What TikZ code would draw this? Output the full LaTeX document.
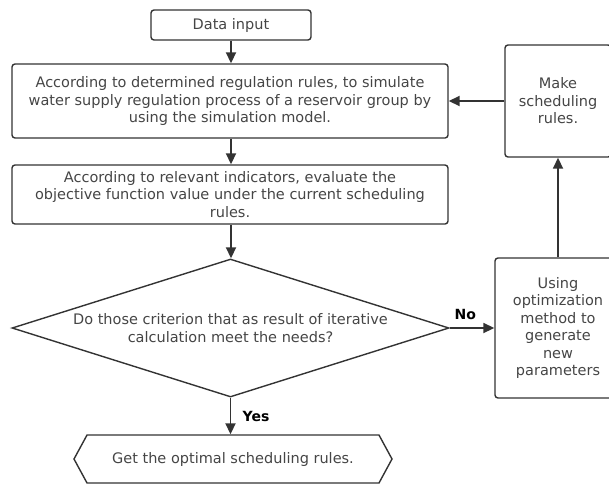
\documentclass[tikz,border=0pt]{standalone}
\usepackage{fontspec}
\setmainfont{DejaVu Sans}
\usetikzlibrary{shapes,arrows.meta,positioning}
\definecolor{linec}{HTML}{333333}
\definecolor{txtc}{HTML}{454545}

\begin{document}
\begin{tikzpicture}[x=1pt,y=-1pt,
  box/.style={draw=linec,line width=1.4pt,rounded corners=3pt,align=center,text=txtc,
    font=\fontsize{14.5}{17.5}\selectfont,inner sep=0pt},
  decision/.style={draw=linec,line width=1.4pt,shape=diamond,inner sep=0pt,
    minimum width=437pt,minimum height=138pt},
  txt/.style={align=center,text=txtc,font=\fontsize{14.5}{18}\selectfont},
  hexa/.style={draw=linec,line width=1.4pt,shape=signal,signal to=west and east,
    signal pointer angle=123,text=txtc,font=\fontsize{14.5}{17.5}\selectfont,
    minimum width=318pt,minimum height=48pt,inner sep=0pt},
  arr/.style={draw=linec,line width=1.8pt,-{Triangle[length=11pt,width=10pt]}},
  lbl/.style={font=\fontsize{14}{15}\bfseries\selectfont,text=black}]
\useasboundingbox (0,0) rectangle (609,485);

\node[box,minimum width=160pt,minimum height=30pt] (din) at (231,25) {Data input};
\node[box,minimum width=436pt,minimum height=74pt] (sim) at (230,101)
  {According to determined regulation rules, to simulate\\
   water supply regulation process of a reservoir group by\\
   using the simulation model.};
\node[box,minimum width=436pt,minimum height=59pt] (eva) at (230,194.5)
  {According to relevant indicators, evaluate the\\
   objective function value under the current scheduling\\
   rules.};
\node[decision] (chk) at (230.5,328) {};
\node[txt] (chkq) at (chk) {Do those criterion that as result of iterative\\
   calculation meet the needs?};
\node[hexa] (res) at (233,459) {Get the optimal scheduling rules.};
\node[box,minimum width=126pt,minimum height=140pt] (opt) at (558,328)
  {Using\\optimization\\method to\\generate\\new\\parameters};
\node[box,minimum width=106pt,minimum height=112pt] (mk) at (558,101)
  {Make\\scheduling\\rules.};

% main flow
\draw[arr] (din.south) -- (din.south |- sim.north);
\draw[arr] (sim.south -| din) -- (eva.north -| din);
\draw[arr] (eva.south -| din) -- (chk.north -| din);
\draw[arr] (chk.south) -- (chk.south |- res.north) node[lbl,midway,right=8pt] {Yes};

% loop back
\draw[arr] (chk.east) -- (opt.west) node[lbl,pos=0.35,above=4pt] {No};
\draw[arr] (opt.north) -- (mk.south);
\draw[arr] (mk.west) -- (mk.west -| sim.east);
\end{tikzpicture}
\end{document}
